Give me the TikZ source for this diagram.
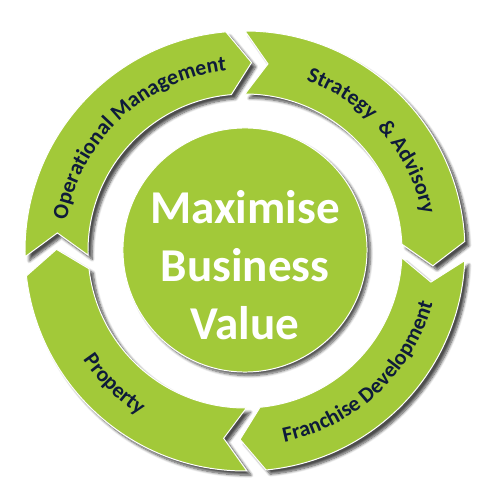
\documentclass[tikz,border=0pt]{standalone}
\usepackage{fontspec}
\setmainfont{Carlito}
\usetikzlibrary{decorations.text,shadows.blur}
\definecolor{CycleGreen}{RGB}{162,201,57}
\definecolor{LabelNavy}{RGB}{14,27,58}

\begin{document}
\begin{tikzpicture}[x=0.025cm,y=0.025cm,
  segment/.style={fill=CycleGreen, draw=white, line width=0.7pt, blur shadow={shadow xshift=3pt, shadow yshift=-3pt, shadow blur steps=8, shadow opacity=70}},
  arclabel/.style={decorate, decoration={text along path, text align=center, text color=LabelNavy, text={|\fontsize{15.5}{15.5}\selectfont\bfseries|#1}}}]
  \useasboundingbox (-245,-235) rectangle (236,251);

  % ring segments, clockwise
  \path[segment] (181.5:220) arc[start angle=181.5, end angle=95, radius=220] -- (88:188.5) -- (95:157) arc[start angle=95, end angle=181.5, radius=157] -- (174.5:188.5) -- cycle;
  \path[segment] (90:220) arc[start angle=90, end angle=2.5, radius=220] -- (-4.5:188.5) -- (2.5:157) arc[start angle=2.5, end angle=90, radius=157] -- (83:188.5) -- cycle;
  \path[segment] (-2.5:220) arc[start angle=-2.5, end angle=-84.5, radius=220] -- (-91.5:188.5) -- (-84.5:157) arc[start angle=-84.5, end angle=-2.5, radius=157] -- (-9.5:188.5) -- cycle;
  \path[segment] (-89.5:220) arc[start angle=-89.5, end angle=-173.5, radius=220] -- (-180.5:188.5) -- (-173.5:157) arc[start angle=-173.5, end angle=-89.5, radius=157] -- (-96.5:188.5) -- cycle;

  % labels along the ring
  \path[arclabel={Operational Management}] (173:181) arc[start angle=173, end angle=93, radius=181];
  \path[arclabel={Strategy\ \ {\&} Advisory}] (81:181) arc[start angle=81, end angle=1, radius=181];
  \path[arclabel={Franchise Development}] (-87:195) arc[start angle=-87, end angle=-7, radius=195];
  \path[arclabel={Property}] (195:195) arc[start angle=195, end angle=256, radius=195];

  % hub
  \node[circle, fill=CycleGreen, draw=white, line width=0.7pt, minimum size=6.1cm, blur shadow={shadow xshift=2.5pt, shadow yshift=-2.5pt, shadow blur steps=8, shadow opacity=65}] (hub) at (0,1) {};
  \node[align=center, text=white, font=\fontsize{33.5}{41}\selectfont\bfseries] (hubtext) at (0,-14) {Maximise\\Business\\Value};
\end{tikzpicture}
\end{document}
